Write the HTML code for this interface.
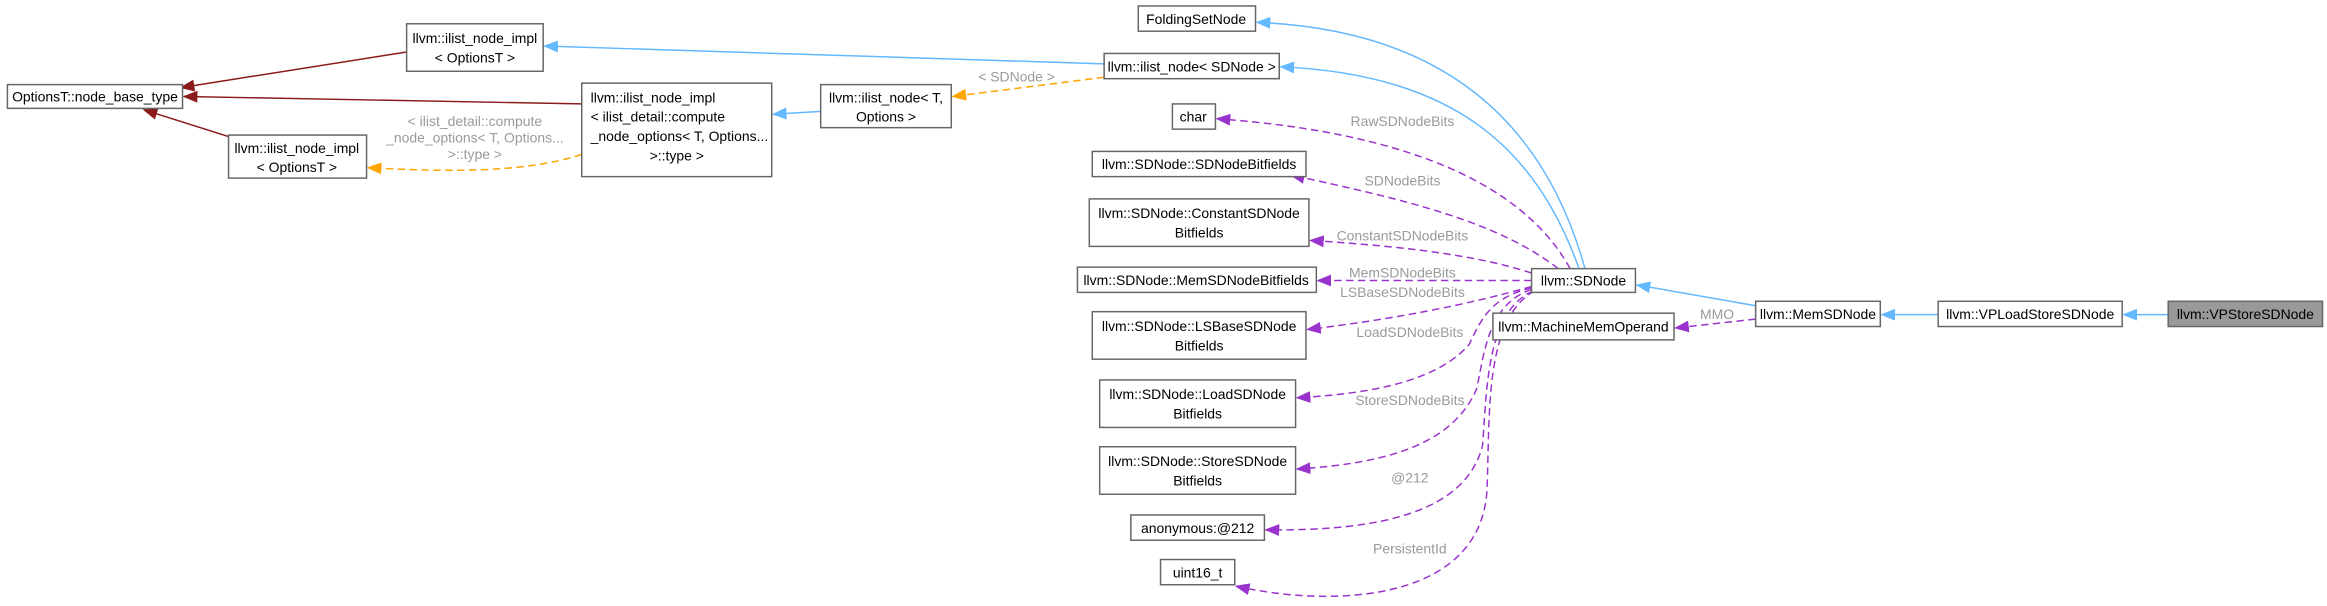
<!DOCTYPE html>
<html><head><meta charset="utf-8"><style>
html,body{margin:0;padding:0;background:#fff;width:2327px;height:606px;overflow:hidden}
svg{display:block}
text{font-family:"Liberation Sans",Helvetica,sans-serif;font-size:9.4px;fill:#000}
.l{fill:#9a9a9a}
rect{fill:#fff;stroke:#666;stroke-width:1}
</style></head><body>
<svg width="2327" height="606" viewBox="0 0 1568 408.3" xmlns="http://www.w3.org/2000/svg">
<defs>
<marker id="r" markerWidth="10" markerHeight="8" refX="9" refY="4" orient="auto" markerUnits="userSpaceOnUse"><path d="M0,0L10,4L0,8z" fill="#8B1A1A"/></marker>
<marker id="b" markerWidth="10" markerHeight="8" refX="9" refY="4" orient="auto" markerUnits="userSpaceOnUse"><path d="M0,0L10,4L0,8z" fill="#63B8FF"/></marker>
<marker id="o" markerWidth="10" markerHeight="8" refX="9" refY="4" orient="auto" markerUnits="userSpaceOnUse"><path d="M0,0L10,4L0,8z" fill="#FFA500"/></marker>
<marker id="p" markerWidth="10" markerHeight="8" refX="9" refY="4" orient="auto" markerUnits="userSpaceOnUse"><path d="M0,0L10,4L0,8z" fill="#9A32CD"/></marker>
</defs>
<g fill="none" stroke-width="1">
<path d="M274,35 L122,59" stroke="#8B1A1A" marker-end="url(#r)"/>
<path d="M392,70 L124,65" stroke="#8B1A1A" marker-end="url(#r)"/>
<path d="M154,92 L97,74" stroke="#8B1A1A" marker-end="url(#r)"/>
<path d="M744,43 L367,31" stroke="#63B8FF" marker-end="url(#b)"/>
<path d="M553,75 L521,77" stroke="#63B8FF" marker-end="url(#b)"/>
<path d="M744,52 L642,65" stroke="#FFA500" stroke-dasharray="5,3" marker-end="url(#o)"/>
<path d="M392,104 C350,118 290,115 248,113" stroke="#FFA500" stroke-dasharray="5,3" marker-end="url(#o)"/>
<path d="M1068,181 C1040,80 970,20 847,15" stroke="#63B8FF" marker-end="url(#b)"/>
<path d="M1064,181 C1035,100 980,50 863,45" stroke="#63B8FF" marker-end="url(#b)"/>
<path d="M1183,206 L1103,192" stroke="#63B8FF" marker-end="url(#b)"/>
<path d="M1306,212 L1268,212" stroke="#63B8FF" marker-end="url(#b)"/>
<path d="M1461,212 L1431,212" stroke="#63B8FF" marker-end="url(#b)"/>
<g stroke="#9A32CD" stroke-dasharray="5,3">
<path d="M1183,215 L1129,221" marker-end="url(#p)"/>
<path d="M1058,181 C1030,130 960,90 820,80" marker-end="url(#p)"/>
<path d="M1050,181 C1010,150 950,135 870,118" marker-end="url(#p)"/>
<path d="M1032,184 C990,170 930,165 883,162" marker-end="url(#p)"/>
<path d="M1032,189 L888,189" marker-end="url(#p)"/>
<path d="M1032,193 C990,205 940,215 881,222" marker-end="url(#p)"/>
<path d="M1032,194 C1005,200 998,215 990,232 C970,255 930,265 874,268" marker-end="url(#p)"/>
<path d="M1032,195 C1002,205 1000,240 995,262 C980,297 940,312 874,316" marker-end="url(#p)"/>
<path d="M1033,196 C1002,210 1002,260 999,300 C988,345 930,358 853,357" marker-end="url(#p)"/>
<path d="M1034,196 C1000,215 1004,280 1002,330 C998,405 900,410 833,395" marker-end="url(#p)"/>
</g>
</g>
<rect x="5" y="57" width="118" height="16"/><text x="64" y="68.5" text-anchor="middle">OptionsT::node_base_type</text>
<rect x="274" y="16" width="92" height="32"/><text x="320" y="29" text-anchor="middle">llvm::ilist_node_impl</text><text x="320" y="42" text-anchor="middle">&lt; OptionsT &gt;</text>
<rect x="392" y="56" width="128" height="63"/><text x="398" y="69">llvm::ilist_node_impl</text><text x="398" y="82">&lt; ilist_detail::compute</text><text x="398" y="95">_node_options&lt; T, Options...</text><text x="456" y="108" text-anchor="middle">&gt;::type &gt;</text>
<rect x="154" y="91" width="93" height="29"/><text x="200" y="103" text-anchor="middle">llvm::ilist_node_impl</text><text x="200" y="116" text-anchor="middle">&lt; OptionsT &gt;</text>
<text class="l" x="320" y="85" text-anchor="middle">&lt; ilist_detail::compute</text><text class="l" x="320" y="96" text-anchor="middle">_node_options&lt; T, Options...</text><text class="l" x="320" y="107" text-anchor="middle">&gt;::type &gt;</text>
<rect x="553" y="57" width="88" height="29"/><text x="597" y="69" text-anchor="middle">llvm::ilist_node&lt; T,</text><text x="597" y="82" text-anchor="middle">Options &gt;</text>
<text class="l" x="685" y="55" text-anchor="middle">&lt; SDNode &gt;</text>
<rect x="767" y="4" width="79" height="17"/><text x="806" y="16" text-anchor="middle">FoldingSetNode</text>
<rect x="744" y="36" width="118" height="17"/><text x="803" y="48" text-anchor="middle">llvm::ilist_node&lt; SDNode &gt;</text>
<rect x="790" y="70" width="29" height="17"/><text x="804" y="82" text-anchor="middle">char</text>
<rect x="736" y="102" width="144" height="17"/><text x="808" y="114" text-anchor="middle">llvm::SDNode::SDNodeBitfields</text>
<rect x="734" y="134" width="148" height="32"/><text x="808" y="147" text-anchor="middle">llvm::SDNode::ConstantSDNode</text><text x="808" y="160" text-anchor="middle">Bitfields</text>
<rect x="726" y="180" width="161" height="17"/><text x="806" y="192" text-anchor="middle">llvm::SDNode::MemSDNodeBitfields</text>
<rect x="736" y="210" width="144" height="32"/><text x="808" y="223" text-anchor="middle">llvm::SDNode::LSBaseSDNode</text><text x="808" y="236" text-anchor="middle">Bitfields</text>
<rect x="741" y="256" width="132" height="32"/><text x="807" y="269" text-anchor="middle">llvm::SDNode::LoadSDNode</text><text x="807" y="282" text-anchor="middle">Bitfields</text>
<rect x="741" y="301" width="132" height="32"/><text x="807" y="314" text-anchor="middle">llvm::SDNode::StoreSDNode</text><text x="807" y="327" text-anchor="middle">Bitfields</text>
<rect x="762" y="347" width="90" height="17"/><text x="807" y="359" text-anchor="middle">anonymous:@212</text>
<rect x="782" y="377" width="50" height="17"/><text x="807" y="389" text-anchor="middle">uint16_t</text>
<text class="l" x="945" y="85" text-anchor="middle">RawSDNodeBits</text>
<text class="l" x="945" y="125" text-anchor="middle">SDNodeBits</text>
<text class="l" x="945" y="162" text-anchor="middle">ConstantSDNodeBits</text>
<text class="l" x="945" y="187" text-anchor="middle">MemSDNodeBits</text>
<text class="l" x="945" y="200" text-anchor="middle">LSBaseSDNodeBits</text>
<text class="l" x="950" y="227" text-anchor="middle">LoadSDNodeBits</text>
<text class="l" x="950" y="273" text-anchor="middle">StoreSDNodeBits</text>
<text class="l" x="950" y="325" text-anchor="middle">@212</text>
<text class="l" x="950" y="373" text-anchor="middle">PersistentId</text>
<rect x="1032" y="181" width="70" height="16"/><text x="1067" y="192.5" text-anchor="middle">llvm::SDNode</text>
<rect x="1006" y="211" width="122" height="18"/><text x="1067" y="223.5" text-anchor="middle">llvm::MachineMemOperand</text>
<text class="l" x="1157" y="215" text-anchor="middle">MMO</text>
<rect x="1183" y="203" width="84" height="17"/><text x="1225" y="215" text-anchor="middle">llvm::MemSDNode</text>
<rect x="1306" y="203" width="124" height="17"/><text x="1368" y="215" text-anchor="middle">llvm::VPLoadStoreSDNode</text>
<rect x="1461" y="203" width="104" height="17" style="fill:#999"/><text x="1513" y="215" text-anchor="middle">llvm::VPStoreSDNode</text>
</svg>
</body></html>
